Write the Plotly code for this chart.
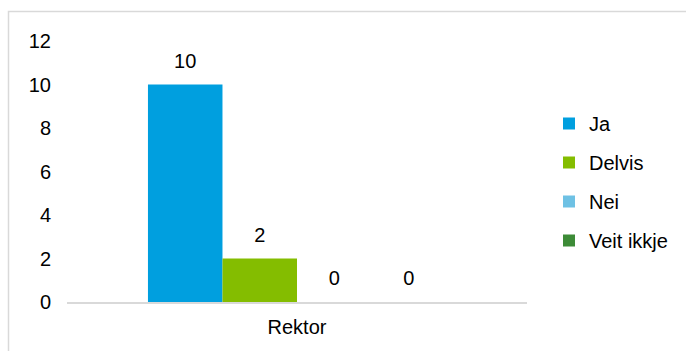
import plotly.graph_objects as go

categories = ["Rektor"]
series_names = ["Ja", "Delvis", "Nei", "Veit ikkje"]
series_values = [[10], [2], [0], [0]]
colors = ["#009FDF", "#84BD00", "#6EC1E4", "#3D8B37"]
y_ticks = [0, 2, 4, 6, 8, 10, 12]

FONT = "Liberation Sans, Arial, sans-serif"
FS = 20

fig = go.Figure()
for name, vals, col in zip(series_names, series_values, colors):
    fig.add_trace(go.Bar(
        x=categories, y=vals, name=name, marker_color=col,
        marker_line_width=0, legendgroup=name,
    ))
for name, vals in zip(series_names, series_values):
    fig.add_trace(go.Scatter(
        x=categories, y=vals, mode="markers+text", text=[str(v) for v in vals],
        textposition="top center", marker=dict(size=17, opacity=0),
        textfont=dict(size=FS, color="#000000", family=FONT),
        showlegend=False, hoverinfo="skip",
    ))

W, H = 686, 351
ml, mr, mt, mb = 67, 159, 41, 49
pw, ph = W - ml - mr, H - mt - mb

fig.update_layout(
    width=W, height=H,
    margin=dict(l=ml, r=mr, t=mt, b=mb, pad=0),
    barmode="group", scattermode="group", bargap=0.352, bargroupgap=0,
    plot_bgcolor="white", paper_bgcolor="white",
    font=dict(family=FONT, size=FS, color="#000000"),
    showlegend=True,
    legend=dict(
        x=(549 - ml) / pw, y=(H - mt - 112) / ph, xanchor="left", yanchor="top",
        font=dict(size=FS, family=FONT), traceorder="grouped",
        tracegroupgap=10, itemwidth=30, bgcolor="rgba(0,0,0,0)",
    ),
    xaxis=dict(showgrid=False, showline=True, linecolor="#D9D9D9", linewidth=1.5,
               ticks="", tickfont=dict(size=FS, family=FONT), ticklabelstandoff=6),
    yaxis=dict(range=[0, 12], tickvals=y_ticks, showgrid=False, zeroline=False,
               showline=False, ticks="", tickfont=dict(size=FS, family=FONT),
               ticklabelstandoff=15),
    shapes=[dict(type="rect", xref="paper", yref="paper",
                 x0=(8.5 - ml) / pw, x1=(700 - ml) / pw,
                 y0=-(400 - (H - mb)) / ph,
                 y1=1 + (mt - 11.5) / ph,
                 line=dict(color="#D9D9D9", width=1.5), fillcolor="rgba(0,0,0,0)",
                 layer="below")],
)

fig.write_html("out.html")
